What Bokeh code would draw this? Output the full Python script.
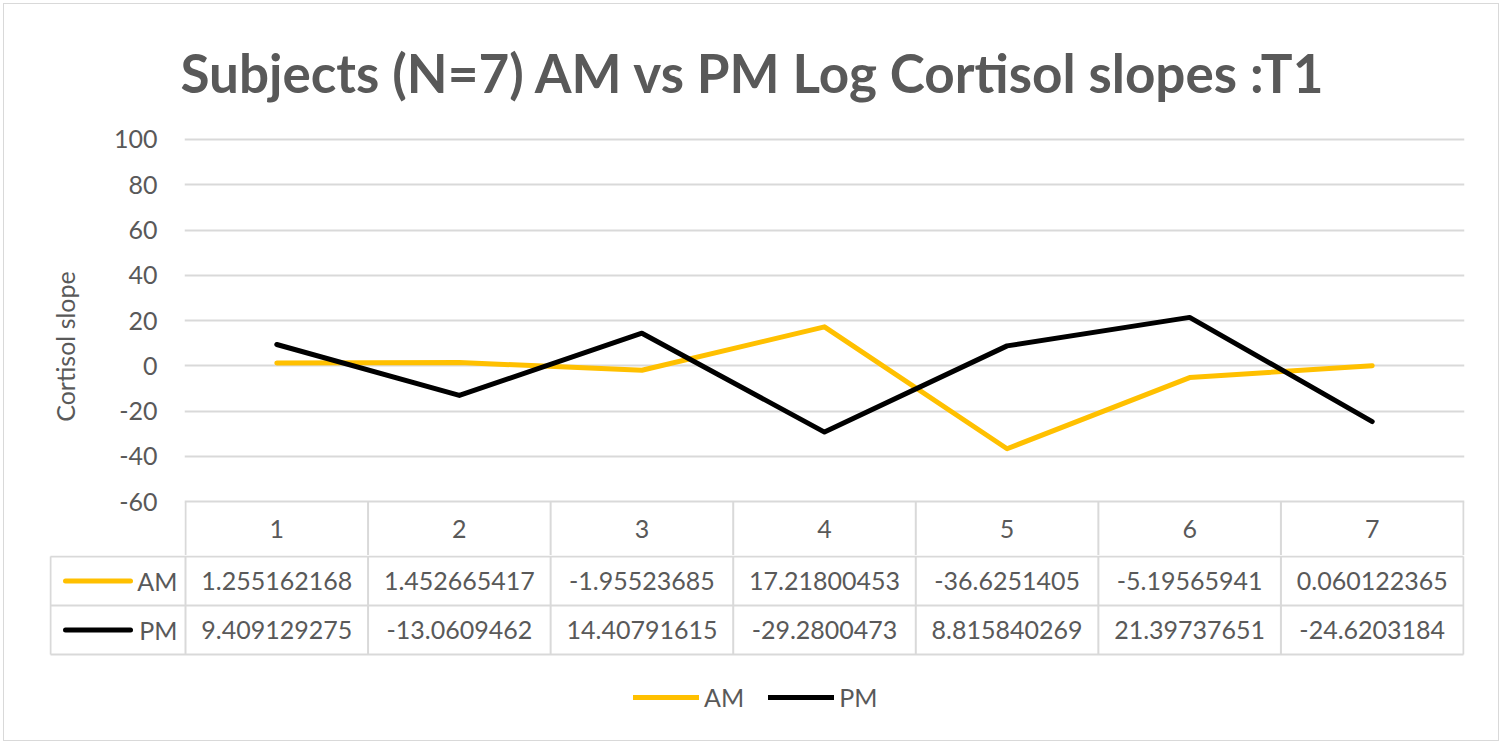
from bokeh.plotting import figure
from bokeh.models import (Range1d, FixedTicker, Legend, LegendItem, CustomJSTickFormatter)
from bokeh.layouts import column
from bokeh.embed import file_html
from bokeh.resources import INLINE
from bokeh.core.properties import value

# ---------------- data ----------------
subjects = [1, 2, 3, 4, 5, 6, 7]
am_values = [1.255162168, 1.452665417, -1.95523685, 17.21800453, -36.6251405, -5.19565941, 0.060122365]
pm_values = [9.409129275, -13.0609462, 14.40791615, -29.2800473, 8.815840269, 21.39737651, -24.6203184]
series_names = ["AM", "PM"]
y_ticks = [-60, -40, -20, 0, 20, 40, 60, 80, 100]
title_text = "Subjects (N=7) AM vs PM Log Cortisol slopes :T1"
y_title = "Cortisol slope"

# ---------------- style ----------------
FONT = "Lato"
TXT = "#595959"
GRID = "#d9d9d9"
AM_COLOR = "#FFC000"
PM_COLOR = "#000000"

OFF = 4                                # page margin + border
W = 1494
COL_PX = (1463 - 185) / 7.0            # pixel width of one category column
PX_PER_UNIT = (501 - 138) / 160.0      # y pixels per data unit

# ---------------- chart (with header row of table) ----------------
A_H = 555 - OFF
a_top_px = 2
y_end = max(y_ticks) + a_top_px / PX_PER_UNIT
y_start = min(y_ticks) - 54 / PX_PER_UNIT
x_pad = 1 / COL_PX

pA = figure(width=W, height=A_H, output_backend="svg", toolbar_location=None,
            x_range=Range1d(subjects[0] - 0.5 - x_pad, subjects[-1] + 0.5 + x_pad),
            y_range=Range1d(y_start, y_end),
            min_border_left=184 - OFF, min_border_right=W - (1464 - OFF),
            min_border_top=136 - OFF, min_border_bottom=0)
pA.frame_align = False
pA.outline_line_color = None
pA.background_fill_color = "white"
pA.border_fill_color = "white"
pA.xaxis.visible = False
pA.xgrid.visible = False
pA.yaxis.ticker = FixedTicker(ticks=y_ticks)
pA.yaxis.formatter = CustomJSTickFormatter(code="return tick.toString();")
pA.ygrid.ticker = FixedTicker(ticks=y_ticks)
pA.ygrid.grid_line_color = GRID
pA.ygrid.grid_line_width = 2
pA.yaxis.axis_line_color = None
pA.yaxis.major_tick_line_color = None
pA.yaxis.minor_tick_line_color = None
pA.yaxis.major_tick_out = 0
pA.yaxis.major_tick_in = 0
pA.yaxis.minor_tick_out = 0
pA.yaxis.major_label_standoff = 27
pA.yaxis.major_label_text_font = FONT
pA.yaxis.major_label_text_font_size = "25px"
pA.yaxis.major_label_text_color = TXT
pA.yaxis.axis_label = y_title
pA.yaxis.axis_label_text_font = FONT
pA.yaxis.axis_label_text_font_style = "normal"
pA.yaxis.axis_label_text_font_size = "25px"
pA.yaxis.axis_label_text_color = TXT
pA.yaxis.axis_label_standoff = 31

pA.title.text = title_text
pA.title.align = "left"
pA.title.offset = -4
pA.title.standoff = 68
pA.title.text_font = FONT
pA.title.text_font_style = "bold"
pA.title.text_font_size = "53px"
pA.title.text_color = TXT

# header row of the data table: column borders and category numbers
bounds = [s - 0.5 for s in subjects] + [subjects[-1] + 0.5]
pA.segment(x0=bounds, y0=[min(y_ticks)] * len(bounds), x1=bounds, y1=[y_start] * len(bounds),
           line_color=GRID, line_width=2)
hdr_y = (min(y_ticks) + y_start) / 2
pA.text(x=subjects, y=[hdr_y] * len(subjects), text=[str(s) for s in subjects],
        text_align="center", text_baseline="middle", text_font=value(FONT),
        text_font_size="25px", text_color=TXT)

# series lines
pA.line(subjects, am_values, line_color=AM_COLOR, line_width=5, line_cap="round", line_join="round")
pA.line(subjects, pm_values, line_color=PM_COLOR, line_width=5, line_cap="round", line_join="round")

# ---------------- data table rows + legend ----------------
B_H = 736 - A_H
ROW_PX = 49.0
b_left_ref = 49
xb_start = 0.5 - (185 - b_left_ref) / COL_PX
xb_end = subjects[-1] + 0.5 + x_pad
yb_top = -1 / ROW_PX
yb_bottom = yb_top + B_H / ROW_PX

pB = figure(width=W, height=B_H, output_backend="svg", toolbar_location=None,
            x_range=Range1d(xb_start, xb_end), y_range=Range1d(yb_bottom, yb_top),
            min_border_left=b_left_ref - OFF, min_border_right=W - (1464 - OFF),
            min_border_top=0, min_border_bottom=0)
pB.frame_align = False
pB.outline_line_color = None
pB.axis.visible = False
pB.grid.visible = False
pB.border_fill_color = "white"

label_left = 0.5 - (185 - 50) / COL_PX
n_rows = len(series_names)
row_lines = list(range(n_rows + 1))
pB.segment(x0=[label_left] * len(row_lines), y0=row_lines, x1=[bounds[-1]] * len(row_lines), y1=row_lines,
           line_color=GRID, line_width=2)
vlines = [label_left] + bounds
pB.segment(x0=vlines, y0=[0] * len(vlines), x1=vlines, y1=[n_rows] * len(vlines),
           line_color=GRID, line_width=2)

row_centers = [r + 0.5 for r in range(n_rows)]
for vals, yc in zip([am_values, pm_values], row_centers):
    pB.text(x=subjects, y=[yc] * len(subjects), text=[str(v) for v in vals],
            text_align="center", text_baseline="middle", text_font=value(FONT),
            text_font_size="25px", text_color=TXT)

# row headers: swatch + name
sw_x0 = 0.5 - (185 - 65) / COL_PX
sw_x1 = 0.5 - (185 - 130) / COL_PX
name_x = 0.5 - (185 - 177) / COL_PX
swatches = []
for color, yc in zip([AM_COLOR, PM_COLOR], row_centers):
    r = pB.segment(x0=[sw_x0], y0=[yc], x1=[sw_x1], y1=[yc], line_color=color, line_width=5,
                   line_cap="round")
    swatches.append(r)
pB.text(x=[name_x] * n_rows, y=row_centers, text=series_names, text_align="right",
        text_baseline="middle", text_font=value(FONT), text_font_size="25px", text_color=TXT)

legend = Legend(items=[LegendItem(label=n, renderers=[r]) for n, r in zip(series_names, swatches)],
                orientation="horizontal", location=(633 - b_left_ref, 28),
                glyph_width=66, glyph_height=30, label_height=30, label_standoff=5, spacing=24,
                padding=0, margin=0, border_line_color=None, background_fill_alpha=0,
                label_text_font=FONT, label_text_font_size="25px", label_text_color=TXT)
pB.add_layout(legend)

layout = column(pA, pB, styles={"border": "1px solid #d9d9d9", "margin": "3px"})
open("out.html", "w").write(file_html(layout, INLINE))
